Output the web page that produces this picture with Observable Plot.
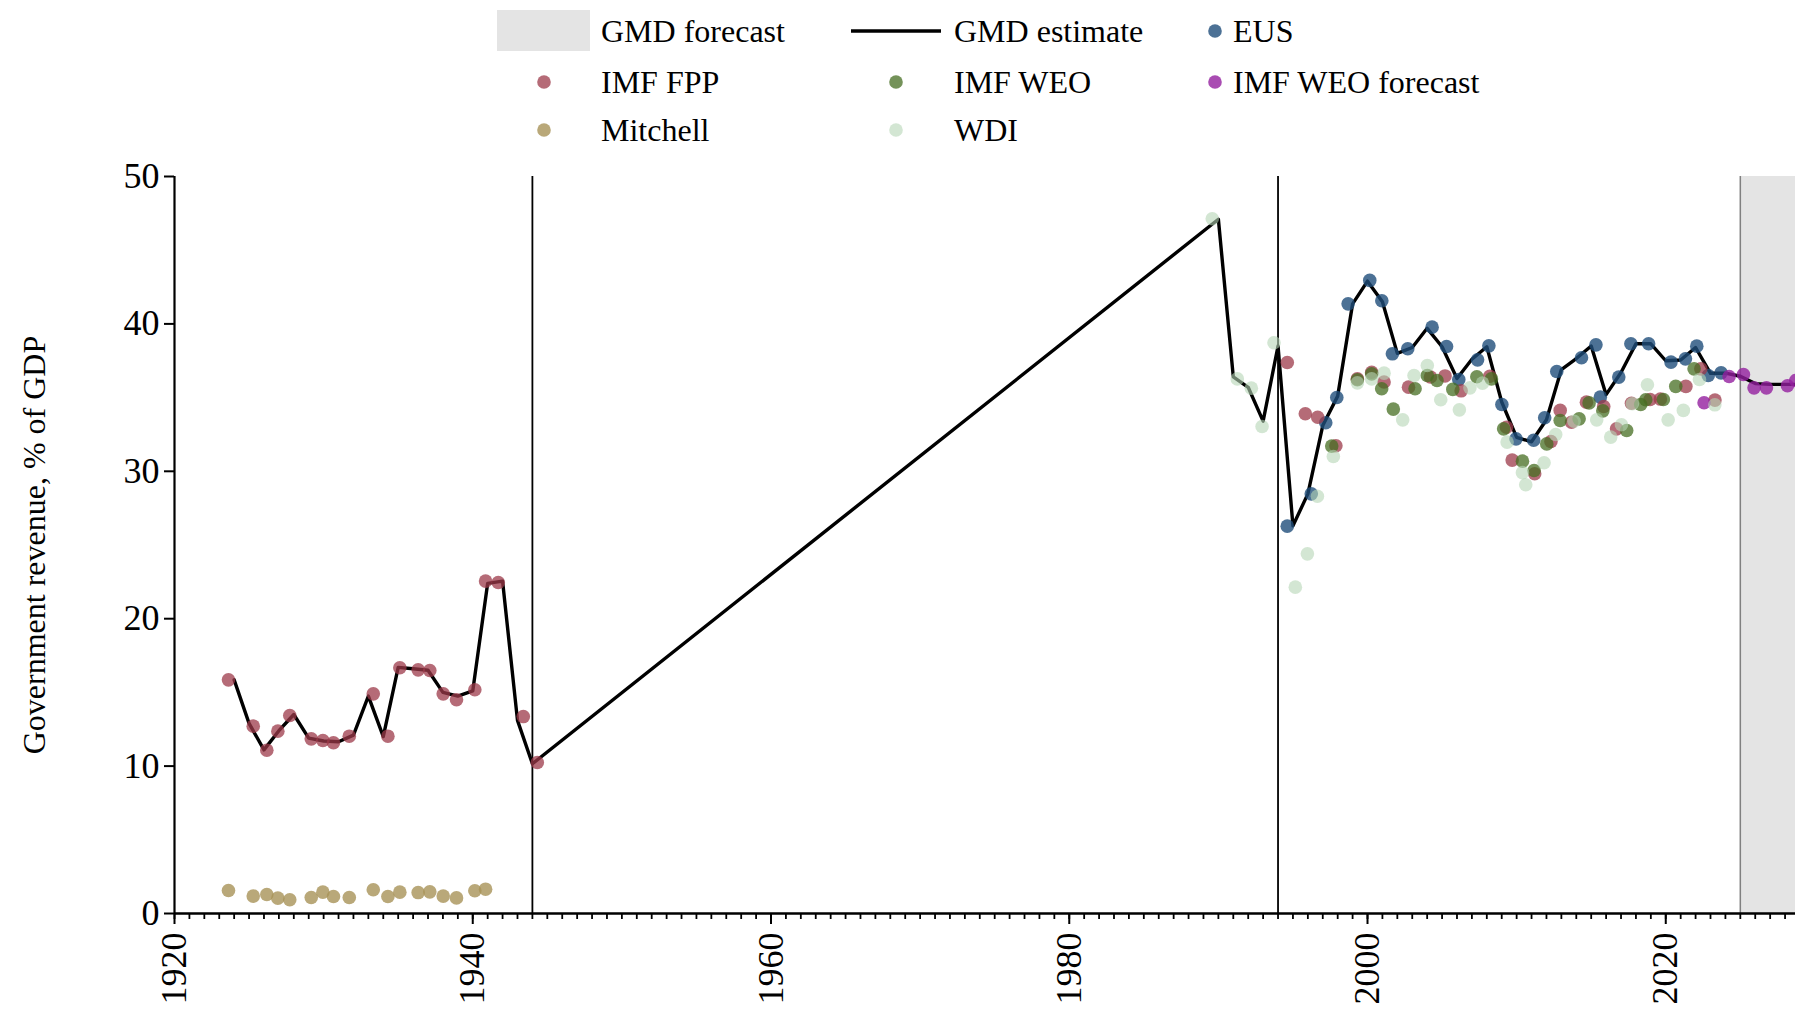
<!DOCTYPE html>
<html>
<head>
<meta charset="utf-8">
<script src="https://cdn.jsdelivr.net/npm/d3@7"></script>
<script src="https://cdn.jsdelivr.net/npm/@observablehq/plot@0.6"></script>
<style>
  html, body { margin: 0; padding: 0; background: white; }
  #legend, #chart { display: block; line-height: 0; }
  svg { display: block; }
  text { font-family: "Liberation Serif", "DejaVu Serif", serif; }
</style>
</head>
<body>
<div id="legend"></div>
<div id="chart"></div>
<script>
// ---------------- DATA ----------------
const yLabel = "Government revenue, % of GDP";
const majorYears = [1920, 1940, 1960, 1980, 2000, 2020];
const minorYears = d3.range(1920, 2029);
const yTicks = [0, 10, 20, 30, 40, 50];
const breakYears = [1944, 1994];
const forecastStart = 2025;
const forecastEnd = 2030;

// GMD estimate (line)
const gmdYears = [1924,1925,1926,1927,1928,1929,1930,1931,1932,1933,1934,1935,1936,1937,1938,1939,1940,1941,1942,1943,1944,
  1990,1991,1992,1993,1994,1995,1996,1997,1998,1999,2000,2001,2002,2003,2004,2005,2006,2007,2008,2009,2010,
  2011,2012,2013,2014,2015,2016,2017,2018,2019,2020,2021,2022,2023,2024,2025,2026,2027,2028,2029];
const gmdValues = [15.85,12.9,11.1,12.4,13.5,11.9,11.7,11.65,12.1,14.75,12.0,16.7,16.6,16.5,15.0,14.75,15.1,22.4,22.55,13.1,10.16,
  47.1,36.4,35.7,33.4,38.5,26.3,28.47,33.1,35.1,41.36,42.9,41.5,38.0,38.4,39.7,38.45,36.3,37.6,38.45,34.7,32.3,
  32.0,33.5,36.9,37.65,38.5,35.2,36.7,38.65,38.65,37.5,37.55,38.4,36.65,36.66,36.45,35.95,35.9,35.9,35.9];

// IMF FPP
const fppYears = [1923.62,1925.28,1926.19,1926.93,1927.73,1929.17,1929.95,1930.66,1931.72,1933.33,1934.31,1935.11,1936.34,1937.12,1938.02,1938.91,1940.14,1940.86,1941.71,1943.39,1944.33,
  1994.62,1995.83,1996.66,1997.88,1999.32,2000.28,2001.11,2002.75,2004.22,2005.2,2006.28,2008.2,2009.32,2009.7,2011.21,2012.3,2012.92,2013.68,2014.68,2015.84,2016.7,2017.7,2018.95,2019.64,2021.35,2022.35,2023.3];
const fppValues = [15.85,12.71,11.08,12.37,13.43,11.85,11.74,11.58,12.03,14.9,12.03,16.67,16.53,16.49,14.9,14.5,15.18,22.55,22.46,13.36,10.24,
  37.38,33.9,33.67,31.73,36.27,36.72,36.06,35.71,36.4,36.47,35.46,36.45,32.99,30.76,29.83,32.02,34.13,33.33,34.69,34.4,32.88,34.62,34.87,34.9,35.76,36.95,34.83];

// Mitchell
const mitchellYears = [1923.62,1925.28,1926.19,1926.93,1927.73,1929.17,1929.95,1930.66,1931.72,1933.33,1934.31,1935.11,1936.34,1937.12,1938.02,1938.91,1940.14,1940.86];
const mitchellValues = [1.56,1.18,1.29,1.04,0.93,1.09,1.45,1.15,1.09,1.61,1.15,1.45,1.42,1.47,1.18,1.06,1.54,1.65];

// EUS
const eusYears = [1994.62,1996.23,1997.2,1997.94,1998.7,2000.15,2000.96,2001.67,2002.7,2004.33,2005.3,2006.12,2007.38,2008.14,2009.01,2009.96,2011.14,2011.88,2012.69,2014.35,2015.32,2015.61,2016.85,2017.66,2018.85,2020.35,2021.32,2022.08,2022.85,2023.71];
const eusValues = [26.28,28.47,33.29,35.01,41.36,42.95,41.57,37.97,38.31,39.78,38.47,36.23,37.56,38.51,34.53,32.2,32.11,33.63,36.77,37.7,38.58,35.03,36.39,38.65,38.65,37.41,37.63,38.49,36.5,36.68];

// IMF WEO
const weoYears = [1997.6,1999.32,2000.28,2000.95,2001.73,2003.19,2004.01,2004.66,2005.72,2007.33,2008.31,2009.13,2010.39,2011.17,2012.02,2012.92,2014.19,2014.86,2015.78,2017.38,2018.32,2018.66,2019.84,2020.67,2021.9];
const weoValues = [31.71,36.21,36.61,35.6,34.22,35.6,36.5,36.16,35.56,36.41,36.27,32.88,30.69,30.05,31.86,33.45,33.56,34.64,34.1,32.77,34.53,34.85,34.87,35.76,36.95];

// IMF WEO forecast
const weoFcYears = [2022.57,2024.25,2025.21,2025.92,2026.75,2028.16,2028.72];
const weoFcValues = [34.65,36.43,36.57,35.66,35.66,35.8,36.16];

// WDI
const wdiYears = [1989.59,1991.27,1992.21,1992.93,1993.73,1995.16,1995.97,1996.64,1997.71,1999.32,2000.28,2001.11,2002.36,2003.12,2004.01,2004.91,2006.16,2006.87,2007.71,2009.36,2010.39,2010.61,2011.84,2012.62,2013.85,2015.37,2016.31,2017.03,2017.76,2018.77,2020.16,2021.18,2022.26,2023.29];
const wdiValues = [47.13,36.27,35.64,33.04,38.72,22.14,24.4,28.31,31.0,36.0,36.27,36.66,33.49,36.5,37.18,34.85,34.17,35.66,35.98,31.98,29.91,29.09,30.58,32.5,33.4,33.49,32.32,33.16,34.58,35.87,33.49,34.13,36.23,34.51];

// ---------------- STYLE ----------------
const colors = {
  "EUS": "#1f4e7a",
  "IMF FPP": "#9c3a4a",
  "IMF WEO": "#466d22",
  "IMF WEO forecast": "#931f9f",
  "Mitchell": "#a89257",
  "WDI": "#b5d6b5"
};
const opac = {
  "EUS": 0.8, "IMF FPP": 0.75, "IMF WEO": 0.75, "IMF WEO forecast": 0.8, "Mitchell": 0.8, "WDI": 0.6
};
const forecastFill = "#e4e4e4";
const FONT = '"Liberation Serif", "DejaVu Serif", serif';
const DOT_R = 6.8;

const zip = (xs, ys) => xs.map((x, i) => ({year: x, value: ys[i]}));
const gmd = zip(gmdYears, gmdValues);
const series = [
  ["EUS", zip(eusYears, eusValues)],
  ["IMF FPP", zip(fppYears, fppValues)],
  ["IMF WEO", zip(weoYears, weoValues)],
  ["IMF WEO forecast", zip(weoFcYears, weoFcValues)],
  ["Mitchell", zip(mitchellYears, mitchellValues)],
  ["WDI", zip(wdiYears, wdiValues)]
];

// ---------------- LEGEND ----------------
(function drawLegend() {
  const W = 1795, H = 160;
  const svg = d3.select("#legend").append("svg").attr("width", W).attr("height", H)
    .style("font-family", FONT).style("font-size", "32px").style("display", "block");
  const colSwatch = [544, 896, 1215];
  const colText = [601, 954, 1233];
  const rowY = [31, 82, 130];
  const items = [
    {label: "GMD forecast", kind: "rect"},
    {label: "GMD estimate", kind: "line"},
    {label: "EUS", kind: "dot"},
    {label: "IMF FPP", kind: "dot"},
    {label: "IMF WEO", kind: "dot"},
    {label: "IMF WEO forecast", kind: "dot"},
    {label: "Mitchell", kind: "dot"},
    {label: "WDI", kind: "dot"}
  ];
  items.forEach((it, i) => {
    const c = i % 3, r = Math.floor(i / 3);
    const cx = colSwatch[c], cy = rowY[r];
    if (it.kind === "rect") {
      svg.append("rect").attr("x", 497).attr("y", cy - 21).attr("width", 93).attr("height", 41)
        .attr("fill", forecastFill);
    } else if (it.kind === "line") {
      svg.append("line").attr("x1", 851).attr("x2", 941).attr("y1", cy).attr("y2", cy)
        .attr("stroke", "black").attr("stroke-width", 3.4);
    } else {
      svg.append("circle").attr("cx", cx).attr("cy", cy).attr("r", DOT_R)
        .attr("fill", colors[it.label]).attr("fill-opacity", opac[it.label]);
    }
    svg.append("text").attr("x", colText[c]).attr("y", cy).attr("dy", "0.33em")
      .attr("fill", "black").text(it.label);
  });
})();

// ---------------- CHART ----------------
const dotMarks = series.map(([name, data]) =>
  Plot.dot(data, {x: "year", y: "value", r: DOT_R, fill: colors[name], fillOpacity: opac[name], stroke: "none", clip: true})
);

const chart = Plot.plot({
  width: 1795,
  height: 857,
  marginTop: 16,
  marginBottom: 104,
  marginLeft: 174,
  marginRight: 0,
  style: {fontFamily: FONT, fontSize: "36px", background: "white", color: "black", overflow: "visible", display: "block"},
  x: {domain: [1920, 2028.7]},
  y: {domain: [0, 50]},
  marks: [
    Plot.rect([{start: forecastStart, end: forecastEnd}], {x1: "start", x2: "end", fill: forecastFill, clip: true}),
    Plot.ruleX([forecastStart], {stroke: "#808080", strokeWidth: 1.5}),
    Plot.ruleX(breakYears, {stroke: "black", strokeWidth: 1.8}),
    Plot.line(gmd, {x: "year", y: "value", stroke: "black", strokeWidth: 3.4, clip: true}),
    ...dotMarks,
    Plot.axisY({ticks: yTicks, tickSize: 10, tickPadding: 5, strokeWidth: 2, label: null, fontSize: 36}),
    Plot.axisX({ticks: minorYears, tickSize: 6, strokeWidth: 1.8, tickFormat: () => "", label: null}),
    Plot.axisX({ticks: majorYears, tickSize: 11, tickPadding: 8, strokeWidth: 2, tickRotate: -90, tickFormat: d => String(d), label: null, fontSize: 36}),
    Plot.ruleX([1920], {stroke: "black", strokeWidth: 2.2}),
    Plot.ruleY([0], {stroke: "black", strokeWidth: 2.6}),
    Plot.text([yLabel], {frameAnchor: "left", rotate: -90, dx: -140, fontSize: 32, textAnchor: "middle", fill: "black"})
  ]
});
document.getElementById("chart").appendChild(chart);
</script>
</body>
</html>
